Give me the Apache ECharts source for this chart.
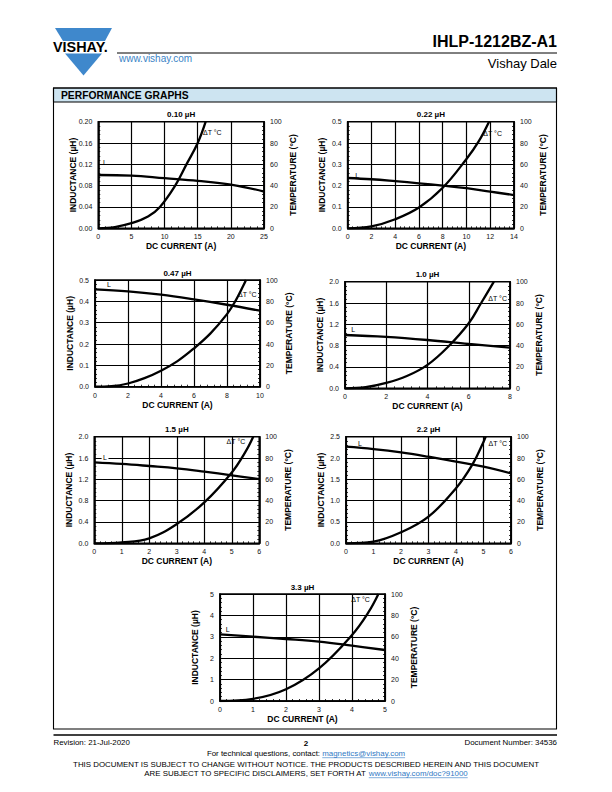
<!DOCTYPE html>
<html><head><meta charset="utf-8">
<script src="https://cdn.jsdelivr.net/npm/echarts@6/dist/echarts.min.js"></script>
<style>html,body{margin:0;padding:0;background:#fff}#c{width:612px;height:792px}</style>
</head><body><div id="c"></div>
<script>
// ---------- data ----------
const chartTitles = ['0.10 µH','0.22 µH','0.47 µH','1.0 µH','1.5 µH','2.2 µH','3.3 µH'];
const currentMax = [25,14,10,8,6,6,5];
const currentStep = [5,2,2,2,1,1,1];
const inductanceMax = [0.20,0.5,0.5,2.0,2.0,2.5,5];
const inductanceStep = [0.04,0.1,0.1,0.4,0.4,0.5,1];
const inductanceDecimals = [2,1,1,1,1,1,0];
const tempMax = 100, tempStep = 20;

const L_010 = [[0,0.100],[5,0.099],[10,0.094],[15,0.089],[20,0.082],[25,0.069]];
const T_010 = [[0,0],[2.5,1.2],[5,4.8],[7.5,11],[9.3,20],[11.6,40],[13.3,60],[15,80],[16.2,100]];
const L_022 = [[0,0.236],[2,0.230],[4,0.221],[6,0.211],[8,0.200],[10,0.188],[12,0.172],[14,0.156]];
const T_022 = [[0,0],[2,1.8],[4,8.5],[6,19.5],[8,38],[10,65],[11,81],[11.9,100]];
const L_047 = [[0,0.456],[2,0.447],[4,0.431],[6,0.409],[8,0.384],[10,0.356]];
const T_047 = [[0,0],[1,0.5],[2,3],[3,8],[4,15],[5,24],[6,36],[7,50],[8,68],[8.5,80],[9,95],[9.15,100]];
const L_100 = [[0,1.0],[2,0.965],[4,0.906],[6,0.831],[8,0.763]];
const T_100 = [[0,0],[1,1],[2,5],[3,11.5],[4,22],[5,39],[6,61],[6.6,80],[7.22,100]];
const L_150 = [[0,1.519],[1,1.49],[2,1.45],[3,1.406],[4,1.344],[5,1.275],[6,1.206]];
const T_150 = [[0,0],[1,0.9],[2,4.7],[3,18.1],[4,38.4],[5,66.5],[5.5,86],[5.78,100]];
const L_220 = [[0,2.266],[1,2.21],[2,2.133],[3,2.03],[4,1.914],[5,1.797],[6,1.64]];
const T_220 = [[0,0],[1,1.6],[2,10.3],[3,25],[4,51.6],[4.6,74],[5,95],[5.08,100]];
const L_330 = [[0,3.115],[1,3.006],[2,2.897],[3,2.773],[4,2.586],[5,2.383]];
const T_330 = [[0,0],[1,2],[2,11],[3,30.5],[4,61.7],[4.5,83],[4.8,100]];

const lSeries = [L_010,L_022,L_047,L_100,L_150,L_220,L_330];
const tSeries = [T_010,T_022,T_047,T_100,T_150,T_220,T_330];

// annotation anchors in data coordinates
const lLabelAt = [[1.0,0.124],[0.81,0.25],[0.85,0.477],[0.4,1.107],[0.39,1.606],[0.51,2.345],[0.23,3.32]];
const tLabelAt = [[17.2,89.7],[12.2,89.1],[9.23,86],[7.4,84.4],[5.15,95.3],[5.52,93.2],[4.26,94.4]];
const lLabelBg = [false,false,false,false,true,false,false];

// ---------- layout ----------
const gridBoxes = [[98.3,121.7,165.7,106.6],[347.7,121.7,166.3,106.6],[95,280,165,106.7],[345,281.7,165,106.6],[94.3,436.7,165,106.6],[346,436.7,165,106.6],[220,594,165,107]];
const FONT = '"Liberation Sans", Arial, Helvetica, sans-serif';
const BLUE = '#3f88cc';
const LINKBLUE = '#2f78c4';

const grid = [], xAxis = [], yAxis = [], series = [], graphic = [];

function annotation(coord, text, bg) {
  return {symbol:'circle', symbolSize:0, silent:true, itemStyle:{color:'#000'},
    data:[{coord:coord, value:0}],
    label:{show:true, position:[0,0], align:'center', verticalAlign:'middle', formatter:text, fontSize:7,
      color:'#000', fontFamily:FONT, backgroundColor: bg ? '#fff' : 'transparent', padding: bg ? [0,1.5] : 0}};
}

gridBoxes.forEach((b, i) => {
  grid.push({left:b[0], top:b[1], width:b[2], height:b[3], show:true, borderColor:'#000', borderWidth:1.6, backgroundColor:'rgba(0,0,0,0)', outerBoundsMode:'none', containLabel:false});
  const tick = {show:true, inside:true, length:2.5, lineStyle:{color:'#000', width:0.8}};
  const minor = {show:true, splitNumber:5, length:2, lineStyle:{color:'#000', width:0.8}};
  xAxis.push({gridIndex:i, type:'value', min:0, max:currentMax[i], interval:currentStep[i],
    axisLine:{show:true, onZero:false, lineStyle:{color:'#000', width:1.6}},
    axisTick:tick, minorTick:minor,
    splitLine:{show:true, lineStyle:{color:'#000', width:1.2}},
    axisLabel:{fontSize:7, color:'#111', margin:5, fontFamily:FONT},
    name:'DC CURRENT (A)', nameLocation:'middle', nameGap:13.5, nameMoveOverlap:false,
    nameTextStyle:{fontSize:8.5, fontWeight:'bold', color:'#000', fontFamily:FONT}});
  yAxis.push({gridIndex:i, type:'value', position:'left', min:0, max:inductanceMax[i], interval:inductanceStep[i],
    axisLine:{show:true, onZero:false, lineStyle:{color:'#000', width:1.6}},
    axisTick:tick, minorTick:minor,
    splitLine:{show:true, lineStyle:{color:'#000', width:1.2}},
    axisLabel:{fontSize:7, color:'#111', margin:6, fontFamily:FONT, formatter:v => v.toFixed(inductanceDecimals[i])},
    name:'INDUCTANCE (µH)', nameLocation:'middle', nameRotate:90, nameGap:21, nameMoveOverlap:false,
    nameTextStyle:{fontSize:8.5, fontWeight:'bold', color:'#000', fontFamily:FONT}});
  yAxis.push({gridIndex:i, type:'value', position:'right', min:0, max:tempMax, interval:tempStep,
    axisLine:{show:true, onZero:false, lineStyle:{color:'#000', width:1.6}},
    axisTick:tick, minorTick:minor,
    splitLine:{show:false},
    axisLabel:{fontSize:7, color:'#111', margin:6, fontFamily:FONT},
    name:'TEMPERATURE (°C)', nameLocation:'middle', nameRotate:90, nameGap:24, nameMoveOverlap:false,
    nameTextStyle:{fontSize:8.5, fontWeight:'bold', color:'#000', fontFamily:FONT}});
  const lineStyle = {color:'#000', width:2.3};
  series.push({type:'line', xAxisIndex:i, yAxisIndex:2*i, data:lSeries[i], color:'#000', itemStyle:{color:'#000'}, smooth:0.4, symbol:'none', lineStyle, clip:true, silent:true,
    markPoint:annotation(lLabelAt[i], 'L', lLabelBg[i])});
  series.push({type:'line', xAxisIndex:i, yAxisIndex:2*i+1, data:tSeries[i], color:'#000', itemStyle:{color:'#000'}, smooth:0.4, symbol:'none', lineStyle, clip:true, silent:true,
    markPoint:annotation(tLabelAt[i], 'ΔT °C', false)});
  graphic.push({type:'text', x:b[0] + b[2]/2, y:b[1] - 7, style:{text:chartTitles[i], fill:'#000', font:'bold 8px ' + FONT, align:'center', verticalAlign:'middle'}});
});

// ---------- page furniture ----------
graphic.push({type:'polygon', shape:{points:[[55,28],[112,28],[105,41],[63,41]]}, style:{fill:BLUE}});
graphic.push({type:'polygon', shape:{points:[[65,53.5],[102,53.5],[83.5,75.5]]}, style:{fill:BLUE}});
graphic.push({type:'text', x:53, y:47.3, style:{text:'VISHAY.', fill:'#000', font:'bold 14.4px ' + FONT, align:'left', verticalAlign:'middle'}});
graphic.push({type:'line', shape:{x1:117, y1:53, x2:557, y2:53}, style:{stroke:'#000', lineWidth:1}});
graphic.push({type:'text', x:119, y:58.5, style:{text:'www.vishay.com', fill:'#3a83c6', font:'10px ' + FONT, align:'left', verticalAlign:'middle'}});
graphic.push({type:'text', x:557, y:41.5, style:{text:'IHLP-1212BZ-A1', fill:'#000', font:'bold 16px ' + FONT, align:'right', verticalAlign:'middle'}});
graphic.push({type:'text', x:557, y:63, style:{text:'Vishay Dale', fill:'#000', font:'13px ' + FONT, align:'right', verticalAlign:'middle'}});

graphic.push({type:'rect', shape:{x:53.5, y:88, width:503, height:14}, style:{fill:'#cde4f1', stroke:'#000', lineWidth:1.1}});
graphic.push({type:'rect', shape:{x:53.5, y:88, width:503, height:641}, style:{fill:'none', stroke:'#000', lineWidth:1.1}});
graphic.push({type:'text', x:61, y:95.2, style:{text:'PERFORMANCE GRAPHS', fill:'#000', font:'bold 10.3px ' + FONT, align:'left', verticalAlign:'middle'}});

graphic.push({type:'line', shape:{x1:53.5, y1:735, x2:557, y2:735}, style:{stroke:'#000', lineWidth:1.5}});
const FS = 7.9;
graphic.push({type:'text', x:53.5, y:742.5, style:{text:'Revision: 21-Jul-2020', fill:'#000', font:FS + 'px ' + FONT, align:'left', verticalAlign:'middle'}});
graphic.push({type:'text', x:306, y:743.5, style:{text:'2', fill:'#000', font:'bold 8px ' + FONT, align:'center', verticalAlign:'middle'}});
graphic.push({type:'text', x:557, y:742.5, style:{text:'Document Number: 34536', fill:'#000', font:FS + 'px ' + FONT, align:'right', verticalAlign:'middle'}});

const mctx = document.createElement('canvas').getContext('2d');
function tw(t, f) { mctx.font = f; return mctx.measureText(t).width; }
function linkLine(plain, link, y) {
  const f = FS + 'px ' + FONT;
  const w1 = tw(plain, f), w2 = tw(link, f);
  const x0 = 306 - (w1 + w2) / 2;
  graphic.push({type:'text', x:x0, y:y, style:{text:plain, fill:'#000', font:f, align:'left', verticalAlign:'middle'}});
  graphic.push({type:'text', x:x0 + w1, y:y, style:{text:link, fill:LINKBLUE, font:f, align:'left', verticalAlign:'middle'}});
  graphic.push({type:'line', shape:{x1:x0 + w1, y1:y + 4.2, x2:x0 + w1 + w2, y2:y + 4.2}, style:{stroke:LINKBLUE, lineWidth:0.6}});
}
linkLine('For technical questions, contact: ', 'magnetics@vishay.com', 753.5);
graphic.push({type:'text', x:306, y:764.5, style:{text:'THIS DOCUMENT IS SUBJECT TO CHANGE WITHOUT NOTICE. THE PRODUCTS DESCRIBED HEREIN AND THIS DOCUMENT', fill:'#000', font:FS + 'px ' + FONT, align:'center', verticalAlign:'middle'}});
linkLine('ARE SUBJECT TO SPECIFIC DISCLAIMERS, SET FORTH AT ', 'www.vishay.com/doc?91000', 773.5);

const chart = echarts.init(document.getElementById('c'), null, {renderer:'svg', width:612, height:792});
chart.setOption({
  animation:false,
  backgroundColor:'#fff',
  textStyle:{fontFamily:FONT},
  grid, xAxis, yAxis, series, graphic
});
</script>
</body></html>
